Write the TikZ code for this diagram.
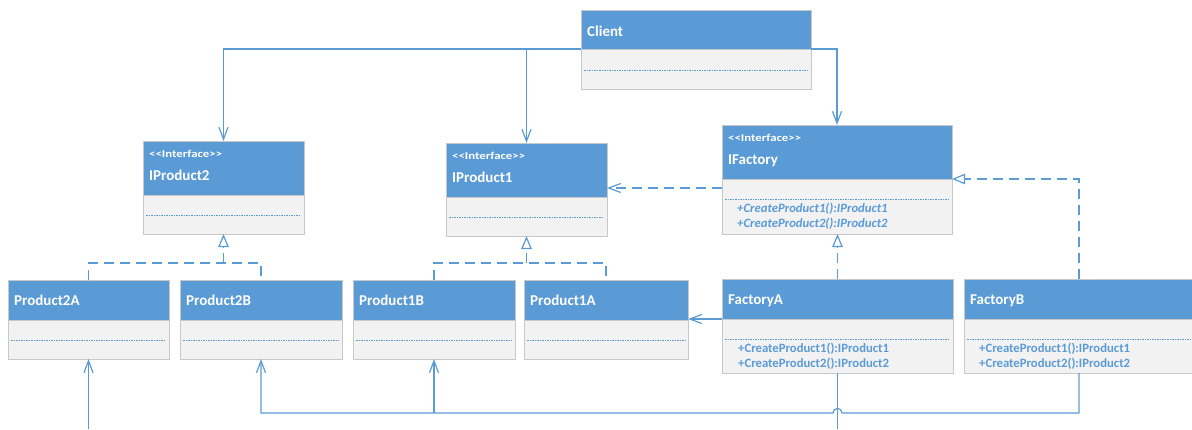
\documentclass[tikz,border=0pt]{standalone}
\usepackage{fontspec}
\setmainfont{Carlito}
\usetikzlibrary{arrows.meta,calc}
\definecolor{hblue}{HTML}{5B9BD5}
\definecolor{bgrey}{HTML}{F2F2F2}
\definecolor{fgrey}{HTML}{C8C8C8}
\definecolor{lblue}{HTML}{5B9BD5}
\newcommand{\ifacelabel}{\scalebox{1.22}[1]{<{}<Interface>{}>}}
\tikzset{
 hdr/.style={draw=fgrey, fill=hblue, line width=1pt, inner sep=0pt, outer sep=0pt, anchor=north west},
 bdy/.style={draw=fgrey, fill=bgrey, line width=1pt, inner sep=0pt, outer sep=0pt, anchor=north west},
 htext/.style={text=white, font=\bfseries\fontsize{15}{18}\selectfont, inner sep=0pt, anchor=base west},
 stext/.style={text=white, font=\bfseries\fontsize{10.5}{12}\selectfont, inner sep=0pt, anchor=base west},
 mtext/.style={text=lblue, font=\bfseries\fontsize{12.7}{14}\selectfont, inner sep=0pt, anchor=base west},
 mitext/.style={mtext, font=\bfseries\itshape\fontsize{12.7}{14}\selectfont},
 dotsep/.style={draw=lblue, line width=1pt, dash pattern=on 1.5pt off 1pt},
 conn/.style={draw=lblue, line width=1.2pt},
 assoc/.style={conn, -{Straight Barb[length=12pt,width=9pt]}},
 depline/.style={conn, dash pattern=on 10pt off 6pt},
 dep/.style={depline, -{Straight Barb[length=12pt,width=9pt]}},
 real/.style={depline, -{Triangle[open,length=13pt,width=10.5pt,fill=white]}},
}
\begin{document}
\begin{tikzpicture}[x=1pt,y=-1pt]
\useasboundingbox (0,0) rectangle (1192,429);
% Client
\node[hdr, minimum width=230pt, minimum height=39pt] (clientH) at (581,10) {};
\node[bdy, minimum width=230pt, minimum height=40pt] (clientB) at (clientH.south west) {};
\node[htext] (clientT) at ([xshift=6pt,yshift=-26pt]clientH.north west) {Client};
\draw[dotsep] ([xshift=3pt,yshift=-21pt]clientB.north west) -- ([xshift=-3pt,yshift=-21pt]clientB.north east);
% IProduct2
\node[hdr, minimum width=161pt, minimum height=54pt] (ip2H) at (143,141) {};
\node[bdy, minimum width=161pt, minimum height=39pt] (ip2B) at (ip2H.south west) {};
\node[stext] (ip2S) at ([xshift=6pt,yshift=-16.5pt]ip2H.north west) {\ifacelabel};
\node[htext] (ip2T) at ([xshift=6pt,yshift=-39.5pt]ip2H.north west) {IProduct2};
\draw[dotsep] ([xshift=3pt,yshift=-20pt]ip2B.north west) -- ([xshift=-3pt,yshift=-20pt]ip2B.north east);
% IProduct1
\node[hdr, minimum width=161pt, minimum height=54pt] (ip1H) at (446,143) {};
\node[bdy, minimum width=161pt, minimum height=39pt] (ip1B) at (ip1H.south west) {};
\node[stext] (ip1S) at ([xshift=6pt,yshift=-16.5pt]ip1H.north west) {\ifacelabel};
\node[htext] (ip1T) at ([xshift=6pt,yshift=-39.5pt]ip1H.north west) {IProduct1};
\draw[dotsep] ([xshift=3pt,yshift=-20pt]ip1B.north west) -- ([xshift=-3pt,yshift=-20pt]ip1B.north east);
% IFactory
\node[hdr, minimum width=230pt, minimum height=54pt] (ifacH) at (722,125) {};
\node[bdy, minimum width=230pt, minimum height=55pt] (ifacB) at (ifacH.south west) {};
\node[stext] (ifacS) at ([xshift=6pt,yshift=-16.5pt]ifacH.north west) {\ifacelabel};
\node[htext] (ifacT) at ([xshift=6pt,yshift=-39.5pt]ifacH.north west) {IFactory};
\draw[dotsep] ([xshift=3pt,yshift=-20pt]ifacB.north west) -- ([xshift=-3pt,yshift=-20pt]ifacB.north east);
\node[mitext] (ifacM1) at ([xshift=15pt,yshift=-33pt]ifacB.north west) {+CreateProduct1():IProduct1};
\node[mitext] (ifacM2) at ([xshift=15pt,yshift=-48pt]ifacB.north west) {+CreateProduct2():IProduct2};
% Product2A
\node[hdr, minimum width=161pt, minimum height=40pt] (p2aH) at (8,280) {};
\node[bdy, minimum width=161pt, minimum height=39pt] (p2aB) at (p2aH.south west) {};
\node[htext] (p2aT) at ([xshift=6pt,yshift=-25pt]p2aH.north west) {Product2A};
\draw[dotsep] ([xshift=3pt,yshift=-20pt]p2aB.north west) -- ([xshift=-3pt,yshift=-20pt]p2aB.north east);
% Product2B
\node[hdr, minimum width=162pt, minimum height=40pt] (p2bH) at (180,280) {};
\node[bdy, minimum width=162pt, minimum height=39pt] (p2bB) at (p2bH.south west) {};
\node[htext] (p2bT) at ([xshift=6pt,yshift=-25pt]p2bH.north west) {Product2B};
\draw[dotsep] ([xshift=3pt,yshift=-20pt]p2bB.north west) -- ([xshift=-3pt,yshift=-20pt]p2bB.north east);
% Product1B
\node[hdr, minimum width=162pt, minimum height=40pt] (p1bH) at (353,280) {};
\node[bdy, minimum width=162pt, minimum height=39pt] (p1bB) at (p1bH.south west) {};
\node[htext] (p1bT) at ([xshift=6pt,yshift=-25pt]p1bH.north west) {Product1B};
\draw[dotsep] ([xshift=3pt,yshift=-20pt]p1bB.north west) -- ([xshift=-3pt,yshift=-20pt]p1bB.north east);
% Product1A
\node[hdr, minimum width=164pt, minimum height=40pt] (p1aH) at (524,280) {};
\node[bdy, minimum width=164pt, minimum height=39pt] (p1aB) at (p1aH.south west) {};
\node[htext] (p1aT) at ([xshift=6pt,yshift=-25pt]p1aH.north west) {Product1A};
\draw[dotsep] ([xshift=3pt,yshift=-20pt]p1aB.north west) -- ([xshift=-3pt,yshift=-20pt]p1aB.north east);
% FactoryA
\node[hdr, minimum width=231pt, minimum height=40pt] (factAH) at (722,279) {};
\node[bdy, minimum width=231pt, minimum height=54pt] (factAB) at (factAH.south west) {};
\node[htext] (factAT) at ([xshift=6pt,yshift=-25pt]factAH.north west) {FactoryA};
\draw[dotsep] ([xshift=3pt,yshift=-20pt]factAB.north west) -- ([xshift=-3pt,yshift=-20pt]factAB.north east);
\node[mtext] (factAM1) at ([xshift=16pt,yshift=-33pt]factAB.north west) {+CreateProduct1():IProduct1};
\node[mtext] (factAM2) at ([xshift=16pt,yshift=-48pt]factAB.north west) {+CreateProduct2():IProduct2};
% FactoryB
\node[hdr, minimum width=230pt, minimum height=40pt] (factBH) at (964,279) {};
\node[bdy, minimum width=230pt, minimum height=54pt] (factBB) at (factBH.south west) {};
\node[htext] (factBT) at ([xshift=6pt,yshift=-25pt]factBH.north west) {FactoryB};
\draw[dotsep] ([xshift=3pt,yshift=-20pt]factBB.north west) -- ([xshift=-3pt,yshift=-20pt]factBB.north east);
\node[mtext] (factBM1) at ([xshift=15pt,yshift=-33pt]factBB.north west) {+CreateProduct1():IProduct1};
\node[mtext] (factBM2) at ([xshift=15pt,yshift=-48pt]factBB.north west) {+CreateProduct2():IProduct2};
% coordinates
\coordinate (j2) at (ip2B.south |- 0,263);
\coordinate (j1) at (ip1B.south |- 0,263);
\coordinate (hop) at (factAB.south |- 0,413);
\coordinate (botA) at (factAB.south |- 0,429);
\coordinate (botB) at (p2aB.south |- 0,429);
% connectors from Client
\draw[assoc] (clientH.south east) -| (ifacH.north);
\draw[assoc] (clientH.south west) -| (ip2H.north);
\draw[assoc] (clientH.south west -| ip1H.north) -- (ip1H.north);
% IFactory -> IProduct1
\draw[dep] ([yshift=-9pt]ifacH.south west) -- ([yshift=-9pt]ifacH.south west -| ip1H.east);
% realizations
\draw[real] (factBH.north) |- (ifacH.south east);
\draw[real] (factAH.north) -- (factAH.north |- ifacB.south);
\draw[depline] (p2aH.north) |- (j2) -| (p2bH.north);
\draw[real] (j2) -- (ip2B.south);
\draw[depline] (p1bH.north) |- (j1) -| (p1aH.north);
\draw[real] (j1) -- (ip1B.south);
% FactoryA -> Product1A
\draw[assoc] (factAH.south west) -- (factAH.south west -| p1aH.east);
% bottom bus
\draw[assoc] (factBB.south) |- ([xshift=4.5pt]hop) .. controls ([xshift=4.5pt,yshift=6pt]hop) and ([xshift=-4.5pt,yshift=6pt]hop) .. ([xshift=-4.5pt]hop) -- (hop -| p2bB.south) -- (p2bB.south);
\draw[assoc] (hop -| p1bB.south) -- (p1bB.south);
\draw[conn] (factAB.south) -- (botA);
\draw[assoc] (botB) -- (p2aB.south);
\end{tikzpicture}
\end{document}
